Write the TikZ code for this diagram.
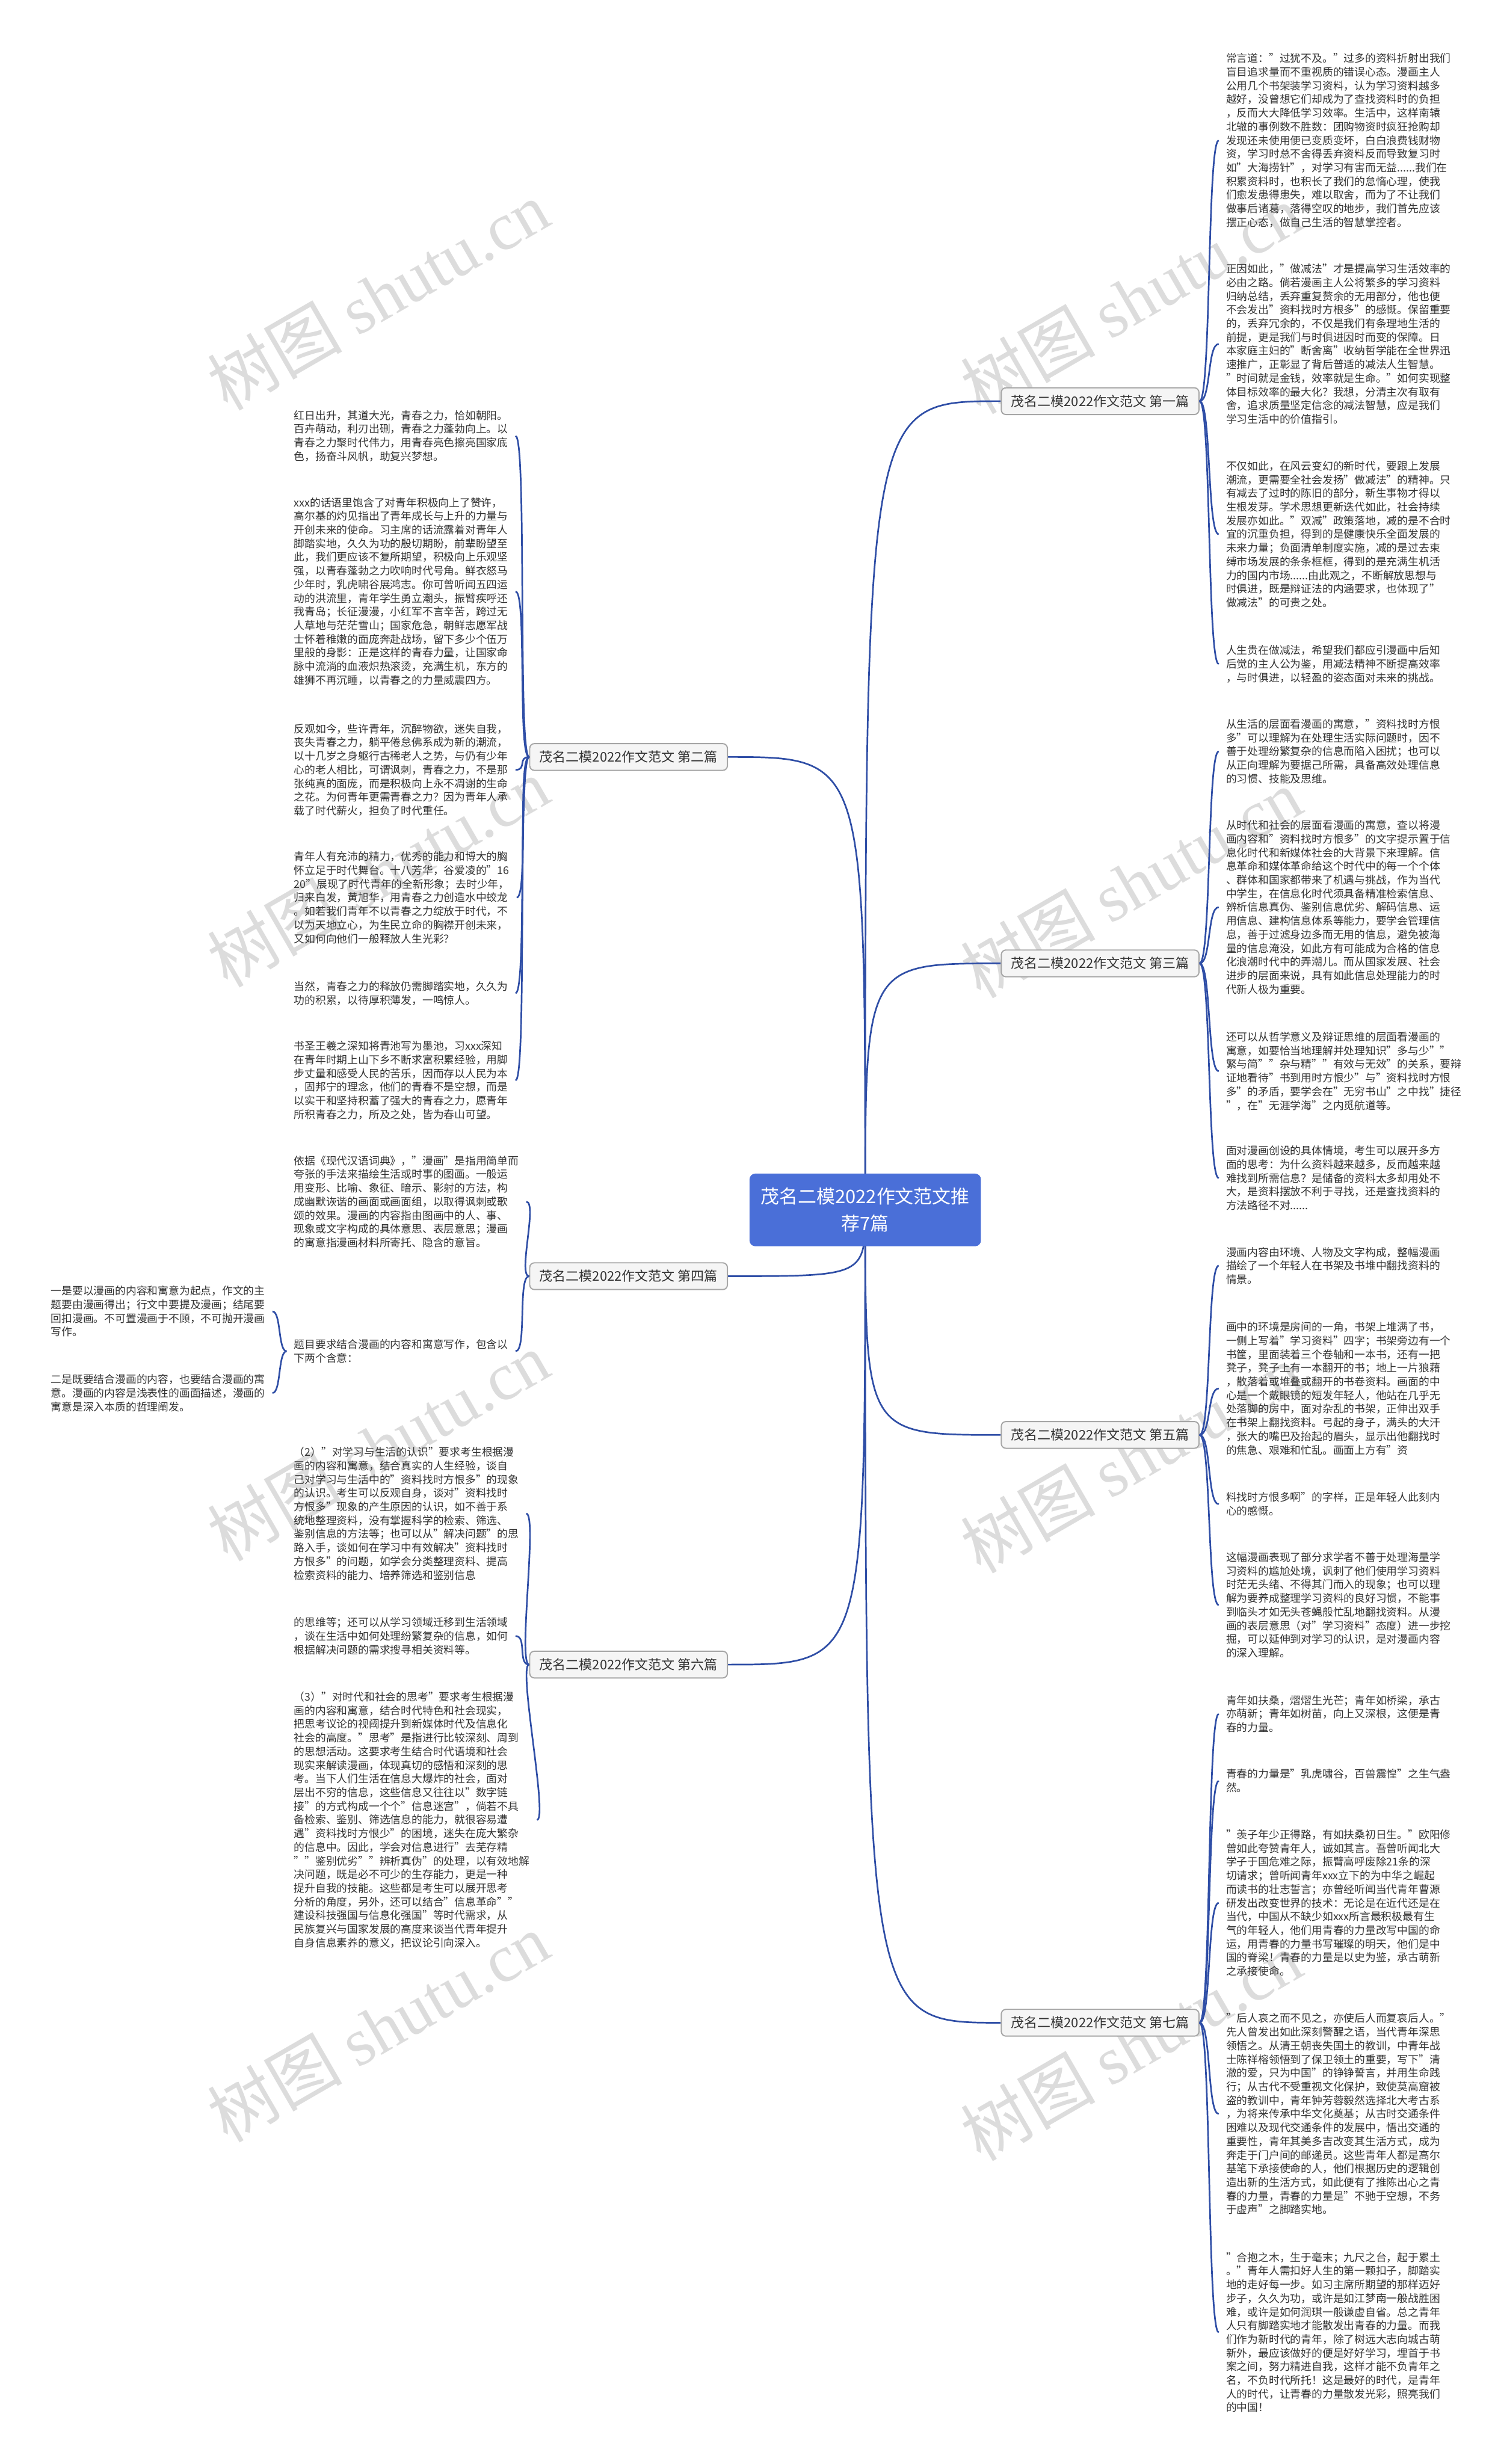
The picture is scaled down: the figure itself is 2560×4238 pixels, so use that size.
\documentclass[tikz,border=0pt]{standalone}
\usepackage{fontspec}
\setmainfont{Noto Sans CJK SC}
\newfontfamily\wmfont{Liberation Serif}
\usetikzlibrary{backgrounds}

\definecolor{linkblue}{HTML}{2F4EA6}
\definecolor{rootblue}{HTML}{4A6FD8}
\definecolor{textgray}{HTML}{333333}
\definecolor{wmgray}{HTML}{DCDCDC}

\tikzset{
  rootbox/.style={fill=rootblue, text=white, rounded corners=2.5pt, minimum width=99.5pt, minimum height=31.25pt, align=center, font=\fontsize{8}{11.5}\selectfont},
  branchbox/.style={draw=gray!70, fill=gray!8, rounded corners=2pt, line width=0.5pt, minimum width=85pt, minimum height=11.5pt, inner sep=1pt, text=textgray, font=\fontsize{5.7}{6}\selectfont},
  leafbox/.style={anchor=north west, inner xsep=3pt, inner ysep=0pt, align=left, text=textgray, font=\fontsize{4.6}{5.875}\selectfont},
  conn/.style={draw=linkblue, line width=0.7pt},
  wmark/.style={rotate=30, text=wmgray, font=\fontsize{29}{29}\selectfont}
}

\begin{document}
\begin{tikzpicture}[x=0.25pt, y=-0.25pt]
  \useasboundingbox (0,0) rectangle (2560,4238);

  \node[rootbox] (c) at (1488, 2081) {茂名二模2022作文范文推\\荐7篇};

  \node[branchbox] (b1) at (1892, 690) {茂名二模2022作文范文 第一篇};
  \node[branchbox] (b3) at (1892, 1657) {茂名二模2022作文范文 第三篇};
  \node[branchbox] (b5) at (1892, 2468) {茂名二模2022作文范文 第五篇};
  \node[branchbox] (b7) at (1892, 3479) {茂名二模2022作文范文 第七篇};
  \node[branchbox] (b2) at (1081, 1302) {茂名二模2022作文范文 第二篇};
  \node[branchbox] (b4) at (1081, 2195) {茂名二模2022作文范文 第四篇};
  \node[branchbox] (b6) at (1081, 2863) {茂名二模2022作文范文 第六篇};

  % first
  \node[leafbox] (r1a) at (2096, 91) {常言道："过犹不及。"过多的资料折射出我们\\盲目追求量而不重视质的错误心态。漫画主人\\公用几个书架装学习资料，认为学习资料越多\\越好，没曾想它们却成为了查找资料时的负担\\，反而大大降低学习效率。生活中，这样南辕\\北辙的事例数不胜数：团购物资时疯狂抢购却\\发现还未使用便已变质变坏，白白浪费钱财物\\资，学习时总不舍得丢弃资料反而导致复习时\\如"大海捞针"，对学习有害而无益......我们在\\积累资料时，也积长了我们的怠惰心理，使我\\们愈发患得患失，难以取舍，而为了不让我们\\做事后诸葛，落得空叹的地步，我们首先应该\\摆正心态，做自己生活的智慧掌控者。};
  \node[leafbox] (r1b) at (2096, 453) {正因如此，"做减法"才是提高学习生活效率的\\必由之路。倘若漫画主人公将繁多的学习资料\\归纳总结，丢弃重复赘余的无用部分，他也便\\不会发出"资料找时方根多"的感慨。保留重要\\的，丢弃冗余的，不仅是我们有条理地生活的\\前提，更是我们与时俱进因时而变的保障。日\\本家庭主妇的"断舍离"收纳哲学能在全世界迅\\速推广，正彰显了背后普适的减法人生智慧。\\"时间就是金钱，效率就是生命。"如何实现整\\体目标效率的最大化？我想，分清主次有取有\\舍，追求质量坚定信念的减法智慧，应是我们\\学习生活中的价值指引。};
  \node[leafbox] (r1c) at (2096, 792) {不仅如此，在风云变幻的新时代，要跟上发展\\潮流，更需要全社会发扬"做减法"的精神。只\\有减去了过时的陈旧的部分，新生事物才得以\\生根发芽。学术思想更新迭代如此，社会持续\\发展亦如此。"双减"政策落地，减的是不合时\\宜的沉重负担，得到的是健康快乐全面发展的\\未来力量；负面清单制度实施，减的是过去束\\缚市场发展的条条框框，得到的是充满生机活\\力的国内市场......由此观之，不断解放思想与\\时俱进，既是辩证法的内涵要求，也体现了"\\做减法"的可贵之处。};
  \node[leafbox] (r1d) at (2096, 1109) {人生贵在做减法，希望我们都应引漫画中后知\\后觉的主人公为鉴，用减法精神不断提高效率\\，与时俱进，以轻盈的姿态面对未来的挑战。};

  % third
  \node[leafbox] (r3a) at (2096, 1236) {从生活的层面看漫画的寓意，"资料找时方恨\\多"可以理解为在处理生活实际问题时，因不\\善于处理纷繁复杂的信息而陷入困扰；也可以\\从正向理解为要据己所需，具备高效处理信息\\的习惯、技能及思维。};
  \node[leafbox] (r3b) at (2096, 1410) {从时代和社会的层面看漫画的寓意，查以将漫\\画内容和"资料找时方恨多"的文字提示置于信\\息化时代和新媒体社会的大背景下来理解。信\\息革命和媒体革命给这个时代中的每一个个体\\、群体和国家都带来了机遇与挑战，作为当代\\中学生，在信息化时代须具备精准检索信息、\\辨析信息真伪、鉴别信息优劣、解码信息、运\\用信息、建构信息体系等能力，要学会管理信\\息，善于过滤身边多而无用的信息，避免被海\\量的信息淹没，如此方有可能成为合格的信息\\化浪潮时代中的弄潮儿。而从国家发展、社会\\进步的层面来说，具有如此信息处理能力的时\\代新人极为重要。};
  \node[leafbox] (r3c) at (2096, 1774) {还可以从哲学意义及辩证思维的层面看漫画的\\寓意，如要恰当地理解并处理知识"多与少""\\繁与简""杂与精""有效与无效"的关系，要辩\\证地看待"书到用时方恨少"与"资料找时方恨\\多"的矛盾，要学会在"无穷书山"之中找"捷径\\"，在"无涯学海"之内觅航道等。};
  \node[leafbox] (r3d) at (2096, 1970) {面对漫画创设的具体情境，考生可以展开多方\\面的思考：为什么资料越来越多，反而越来越\\难找到所需信息？是储备的资料太多却用处不\\大，是资料摆放不利于寻找，还是查找资料的\\方法路径不对......};

  % fifth
  \node[leafbox] (r5a) at (2096, 2144) {漫画内容由环境、人物及文字构成，整幅漫画\\描绘了一个年轻人在书架及书堆中翻找资料的\\情景。};
  \node[leafbox] (r5b) at (2096, 2273) {画中的环境是房间的一角，书架上堆满了书，\\一侧上写着"学习资料"四字；书架旁边有一个\\书筐，里面装着三个卷轴和一本书，还有一把\\凳子，凳子上有一本翻开的书；地上一片狼藉\\，散落着或堆叠或翻开的书卷资料。画面的中\\心是一个戴眼镜的短发年轻人，他站在几乎无\\处落脚的房中，面对杂乱的书架，正伸出双手\\在书架上翻找资料。弓起的身子，满头的大汗\\，张大的嘴巴及抬起的眉头，显示出他翻找时\\的焦急、艰难和忙乱。画面上方有"资};
  \node[leafbox] (r5c) at (2096, 2566) {料找时方恨多啊"的字样，正是年轻人此刻内\\心的感慨。};
  \node[leafbox] (r5d) at (2096, 2669) {这幅漫画表现了部分求学者不善于处理海量学\\习资料的尴尬处境，讽刺了他们使用学习资料\\时茫无头绪、不得其门而入的现象；也可以理\\解为要养成整理学习资料的良好习惯，不能事\\到临头才如无头苍蝇般忙乱地翻找资料。从漫\\画的表层意思（对"学习资料"态度）进一步挖\\掘，可以延伸到对学习的认识，是对漫画内容\\的深入理解。};

  % seventh
  \node[leafbox] (r7a) at (2096, 2915) {青年如扶桑，熠熠生光芒；青年如桥梁，承古\\亦萌新；青年如树苗，向上又深根，这便是青\\春的力量。};
  \node[leafbox] (r7b) at (2096, 3042) {青春的力量是"乳虎啸谷，百兽震惶"之生气盎\\然。};
  \node[leafbox] (r7c) at (2096, 3146) {"羡子年少正得路，有如扶桑初日生。"欧阳修\\曾如此夸赞青年人，诚如其言。吾曾听闻北大\\学子于国危难之际，振臂高呼废除21条的深\\切请求；曾听闻青年xxx立下的为中华之崛起\\而读书的壮志誓言；亦曾经听闻当代青年曹源\\研发出改变世界的技术：无论是在近代还是在\\当代，中国从不缺少如xxx所言最积极最有生\\气的年轻人，他们用青春的力量改写中国的命\\运，用青春的力量书写璀璨的明天，他们是中\\国的脊梁！青春的力量是以史为鉴，承古萌新\\之承接使命。};
  \node[leafbox] (r7d) at (2096, 3462) {"后人哀之而不见之，亦使后人而复哀后人。"\\先人曾发出如此深刻警醒之语，当代青年深思\\领悟之。从清王朝丧失国土的教训，中青年战\\士陈祥榕领悟到了保卫领土的重要，写下"清\\澈的爱，只为中国"的铮铮誓言，并用生命践\\行；从古代不受重视文化保护，致使莫高窟被\\盗的教训中，青年钟芳蓉毅然选择北大考古系\\，为将来传承中华文化奠基；从古时交通条件\\困难以及现代交通条件的发展中，悟出交通的\\重要性，青年其美多吉改变其生活方式，成为\\奔走于门户间的邮递员。这些青年人都是高尔\\基笔下承接使命的人，他们根据历史的逻辑创\\造出新的生活方式，如此便有了推陈出心之青\\春的力量，青春的力量是"不驰于空想，不务\\于虚声"之脚踏实地。};
  \node[leafbox] (r7e) at (2096, 3873) {"合抱之木，生于毫末；九尺之台，起于累土\\。"青年人需扣好人生的第一颗扣子，脚踏实\\地的走好每一步。如习主席所期望的那样迈好\\步子，久久为功，或许是如江梦南一般战胜困\\难，或许是如何润琪一般谦虚自省。总之青年\\人只有脚踏实地才能散发出青春的力量。而我\\们作为新时代的青年，除了树远大志向城古萌\\新外，最应该做好的便是好好学习，埋首于书\\案之间，努力精进自我，这样才能不负青年之\\名，不负时代所托！这是最好的时代，是青年\\人的时代，让青春的力量散发光彩，照亮我们\\的中国！};

  % second
  \node[leafbox] (l2a) at (493, 705) {红日出升，其道大光，青春之力，恰如朝阳。\\百卉萌动，利刃出硎，青春之力蓬勃向上。以\\青春之力聚时代伟力，用青春亮色擦亮国家底\\色，扬奋斗风帆，助复兴梦想。};
  \node[leafbox] (l2b) at (493, 855) {xxx的话语里饱含了对青年积极向上了赞许，\\高尔基的灼见指出了青年成长与上升的力量与\\开创未来的使命。习主席的话流露着对青年人\\脚踏实地，久久为功的殷切期盼，前辈盼望至\\此，我们更应该不复所期望，积极向上乐观坚\\强，以青春蓬勃之力吹响时代号角。鲜衣怒马\\少年时，乳虎啸谷展鸿志。你可曾听闻五四运\\动的洪流里，青年学生勇立潮头，振臂疾呼还\\我青岛；长征漫漫，小红军不言辛苦，跨过无\\人草地与茫茫雪山；国家危急，朝鲜志愿军战\\士怀着稚嫩的面庞奔赴战场，留下多少个伍万\\里般的身影：正是这样的青春力量，让国家命\\脉中流淌的血液炽热滚烫，充满生机，东方的\\雄狮不再沉睡，以青春之的力量威震四方。};
  \node[leafbox] (l2c) at (493, 1244) {反观如今，些许青年，沉醉物欲，迷失自我，\\丧失青春之力，躺平倦怠佛系成为新的潮流，\\以十几岁之身躯行古稀老人之势，与仍有少年\\心的老人相比，可谓讽刺，青春之力，不是那\\张纯真的面庞，而是积极向上永不凋谢的生命\\之花。为何青年更需青春之力？因为青年人承\\载了时代薪火，担负了时代重任。};
  \node[leafbox] (l2d) at (493, 1464) {青年人有充沛的精力，优秀的能力和博大的胸\\怀立足于时代舞台。十八芳华，谷爱凌的"16\\20"展现了时代青年的全新形象；去时少年，\\归来白发，黄旭华，用青春之力创造水中蛟龙\\。如若我们青年不以青春之力绽放于时代，不\\以为天地立心，为生民立命的胸襟开创未来，\\又如何向他们一般释放人生光彩？};
  \node[leafbox] (l2e) at (493, 1687) {当然，青春之力的释放仍需脚踏实地，久久为\\功的积累，以待厚积薄发，一鸣惊人。};
  \node[leafbox] (l2f) at (493, 1790) {书圣王羲之深知将青池写为墨池，习xxx深知\\在青年时期上山下乡不断求富积累经验，用脚\\步丈量和感受人民的苦乐，因而存以人民为本\\，固邦宁的理念，他们的青春不是空想，而是\\以实干和坚持积蓄了强大的青春之力，愿青年\\所积青春之力，所及之处，皆为春山可望。};

  % fourth
  \node[leafbox] (l4a) at (493, 1987) {依据《现代汉语词典》，"漫画"是指用简单而\\夸张的手法来描绘生活或时事的图画。一般运\\用变形、比喻、象征、暗示、影射的方法，构\\成幽默诙谐的画面或画面组，以取得讽刺或歌\\颂的效果。漫画的内容指由图画中的人、事、\\现象或文字构成的具体意思、表层意思；漫画\\的寓意指漫画材料所寄托、隐含的意旨。};
  \node[leafbox] (l4b) at (493, 2303) {题目要求结合漫画的内容和寓意写作，包含以\\下两个含意：};
  \node[leafbox] (f1) at (75, 2211) {一是要以漫画的内容和寓意为起点，作文的主\\题要由漫画得出；行文中要提及漫画；结尾要\\回扣漫画。不可置漫画于不顾，不可抛开漫画\\写作。};
  \node[leafbox] (f2) at (75, 2363) {二是既要结合漫画的内容，也要结合漫画的寓\\意。漫画的内容是浅表性的画面描述，漫画的\\寓意是深入本质的哲理阐发。};

  % sixth
  \node[leafbox] (l6a) at (493, 2488) {（2）"对学习与生活的认识"要求考生根据漫\\画的内容和寓意，结合真实的人生经验，谈自\\己对学习与生活中的"资料找时方恨多"的现象\\的认识。考生可以反观自身，谈对"资料找时\\方恨多"现象的产生原因的认识，如不善于系\\统地整理资料，没有掌握科学的检索、筛选、\\鉴别信息的方法等；也可以从"解决问题"的思\\路入手，谈如何在学习中有效解决"资料找时\\方恨多"的问题，如学会分类整理资料、提高\\检索资料的能力、培养筛选和鉴别信息};
  \node[leafbox] (l6b) at (493, 2781) {的思维等；还可以从学习领域迁移到生活领域\\，谈在生活中如何处理纷繁复杂的信息，如何\\根据解决问题的需求搜寻相关资料等。};
  \node[leafbox] (l6c) at (493, 2909) {（3）"对时代和社会的思考"要求考生根据漫\\画的内容和寓意，结合时代特色和社会现实，\\把思考议论的视阈提升到新媒体时代及信息化\\社会的高度。"思考"是指进行比较深刻、周到\\的思想活动。这要求考生结合时代语境和社会\\现实来解读漫画，体现真切的感悟和深刻的思\\考。当下人们生活在信息大爆炸的社会，面对\\层出不穷的信息，这些信息又往往以"数字链\\接"的方式构成一个个"信息迷宫"，倘若不具\\备检索、鉴别、筛选信息的能力，就很容易遭\\遇"资料找时方恨少"的困境，迷失在庞大繁杂\\的信息中。因此，学会对信息进行"去芜存精\\""鉴别优劣""辨析真伪"的处理，以有效地解\\决问题，既是必不可少的生存能力，更是一种\\提升自我的技能。这些都是考生可以展开思考\\分析的角度，另外，还可以结合"信息革命""\\建设科技强国与信息化强国"等时代需求，从\\民族复兴与国家发展的高度来谈当代青年提升\\自身信息素养的意义，把议论引向深入。};

  \begin{scope}[on background layer]
    \fill[white] (0,0) rectangle (2560,4238);
    \node[wmark] (wm1) at (650, 508) {树图 {\wmfont shutu.cn}};
    \node[wmark] (wm2) at (1945, 514) {树图 {\wmfont shutu.cn}};
    \node[wmark] (wm3) at (650, 1500) {树图 {\wmfont shutu.cn}};
    \node[wmark] (wm4) at (1945, 1519) {树图 {\wmfont shutu.cn}};
    \node[wmark] (wm5) at (650, 2487) {树图 {\wmfont shutu.cn}};
    \node[wmark] (wm6) at (1945, 2508) {树图 {\wmfont shutu.cn}};
    \node[wmark] (wm7) at (650, 3487) {树图 {\wmfont shutu.cn}};
    \node[wmark] (wm8) at (1945, 3519) {树图 {\wmfont shutu.cn}};

    \draw[conn] (c.center) .. controls (c.center |- b1.west) .. (b1.west);
    \draw[conn] (c.center) .. controls (c.center |- b3.west) .. (b3.west);
    \draw[conn] (c.center) .. controls (c.center |- b5.west) .. (b5.west);
    \draw[conn] (c.center) .. controls (c.center |- b7.west) .. (b7.west);
    \draw[conn] (c.center) .. controls (c.center |- b2.east) .. (b2.east);
    \draw[conn] (c.center) .. controls (c.center |- b4.east) .. (b4.east);
    \draw[conn] (c.center) .. controls (c.center |- b6.east) .. (b6.east);
  \end{scope}

  \draw[conn] (b1.east) .. controls +(20,0) and +(-20,0) .. (r1a.west);
  \draw[conn] (b1.east) .. controls +(20,0) and +(-20,0) .. (r1b.west);
  \draw[conn] (b1.east) .. controls +(20,0) and +(-20,0) .. (r1c.west);
  \draw[conn] (b1.east) .. controls +(20,0) and +(-20,0) .. (r1d.west);

  \draw[conn] (b3.east) .. controls +(20,0) and +(-20,0) .. (r3a.west);
  \draw[conn] (b3.east) .. controls +(20,0) and +(-20,0) .. (r3b.west);
  \draw[conn] (b3.east) .. controls +(20,0) and +(-20,0) .. (r3c.west);
  \draw[conn] (b3.east) .. controls +(20,0) and +(-20,0) .. (r3d.west);

  \draw[conn] (b5.east) .. controls +(20,0) and +(-20,0) .. (r5a.west);
  \draw[conn] (b5.east) .. controls +(20,0) and +(-20,0) .. (r5b.west);
  \draw[conn] (b5.east) .. controls +(20,0) and +(-20,0) .. (r5c.west);
  \draw[conn] (b5.east) .. controls +(20,0) and +(-20,0) .. (r5d.west);

  \draw[conn] (b7.east) .. controls +(20,0) and +(-20,0) .. (r7a.west);
  \draw[conn] (b7.east) .. controls +(20,0) and +(-20,0) .. (r7b.west);
  \draw[conn] (b7.east) .. controls +(20,0) and +(-20,0) .. (r7c.west);
  \draw[conn] (b7.east) .. controls +(20,0) and +(-20,0) .. (r7d.west);
  \draw[conn] (b7.east) .. controls +(20,0) and +(-20,0) .. (r7e.west);

  \draw[conn] (b2.west) .. controls +(-20,0) and +(20,0) .. (l2a.east);
  \draw[conn] (b2.west) .. controls +(-20,0) and +(20,0) .. (l2b.east);
  \draw[conn] (b2.west) .. controls +(-20,0) and +(20,0) .. (l2c.east);
  \draw[conn] (b2.west) .. controls +(-20,0) and +(20,0) .. (l2d.east);
  \draw[conn] (b2.west) .. controls +(-20,0) and +(20,0) .. (l2e.east);
  \draw[conn] (b2.west) .. controls +(-20,0) and +(20,0) .. (l2f.east);

  \draw[conn] (b4.west) .. controls +(-20,0) and +(20,0) .. (l4a.east);
  \draw[conn] (b4.west) .. controls +(-20,0) and +(20,0) .. (l4b.east);
  \draw[conn] (l4b.west) .. controls +(-15,0) and +(15,0) .. (f1.east);
  \draw[conn] (l4b.west) .. controls +(-15,0) and +(15,0) .. (f2.east);

  \draw[conn] (b6.west) .. controls +(-20,0) and +(20,0) .. (l6a.east);
  \draw[conn] (b6.west) .. controls +(-20,0) and +(20,0) .. (l6b.east);
  \draw[conn] (b6.west) .. controls +(-20,0) and +(20,0) .. (l6c.east);
\end{tikzpicture}
\end{document}
